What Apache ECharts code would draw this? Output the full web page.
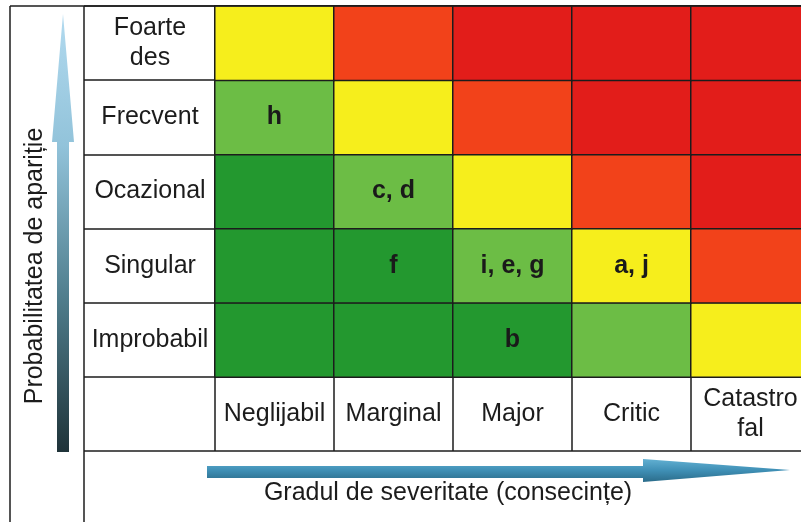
<!DOCTYPE html>
<html>
<head>
<meta charset="utf-8">
<script src="https://cdn.jsdelivr.net/npm/echarts@6/dist/echarts.min.js"></script>
<style>
html,body{margin:0;padding:0;background:#fff;overflow:hidden;width:801px;height:522px;}
#chart{width:812px;height:522px;}
</style>
</head>
<body>
<div id="chart"></div>
<script>
// Severity categories (x axis, left to right)
const severities = ['Neglijabil', 'Marginal', 'Major', 'Critic', 'Catastro\nfal'];
// Probability categories (y axis, bottom to top)
const probabilities = ['Improbabil', 'Singular', 'Ocazional', 'Frecvent', 'Foarte\ndes'];
// Risk level per cell, rows from bottom (Improbabil) to top (Foarte des)
// 1 = low (dark green), 2 = light green, 3 = yellow, 4 = orange, 5 = red
const riskImprobabil = [1, 1, 1, 2, 3];
const riskSingular   = [1, 1, 2, 3, 4];
const riskOcazional  = [1, 2, 3, 4, 5];
const riskFrecvent   = [2, 3, 4, 5, 5];
const riskFoarteDes  = [3, 4, 5, 5, 5];
// Hazard letters placed in cells
const hazImprobabil = ['', '', 'b', '', ''];
const hazSingular   = ['', 'f', 'i, e, g', 'a, j', ''];
const hazOcazional  = ['', 'c, d', '', '', ''];
const hazFrecvent   = ['h', '', '', '', ''];
const hazFoarteDes  = ['', '', '', '', ''];

const yTitle = 'Probabilitatea de apariție';
const xTitle = 'Gradul de severitate (consecințe)';

const levelColors = ['#23982f', '#6cbd45', '#f6ee1c', '#f2421a', '#e21d1a'];

const riskRows = [riskImprobabil, riskSingular, riskOcazional, riskFrecvent, riskFoarteDes];
const hazRows = [hazImprobabil, hazSingular, hazOcazional, hazFrecvent, hazFoarteDes];

const data = [];
riskRows.forEach((row, yi) => {
  row.forEach((lvl, xi) => {
    data.push({ value: [xi, yi, lvl], label: hazRows[yi][xi] });
  });
});

const FONT = '"Liberation Sans", Arial, sans-serif';
const LINE = '#1c1c1c';

const chart = echarts.init(document.getElementById('chart'), null, { renderer: 'canvas' });
chart.setOption({
  backgroundColor: '#ffffff',
  animation: false,
  grid: { left: 215, top: 6, width: 595, height: 371 },
  xAxis: {
    type: 'category',
    data: severities,
    position: 'bottom',
    axisLine: { show: false },
    axisTick: { show: true, length: 74, lineStyle: { color: LINE, width: 1.5 } },
    axisLabel: {
      margin: 37, verticalAlign: 'middle', color: '#1c1c1c',
      fontFamily: FONT, fontSize: 25, lineHeight: 30, interval: 0
    },
    splitLine: { show: false }
  },
  yAxis: {
    type: 'category',
    data: probabilities,
    axisLine: { show: false },
    axisTick: { show: true, length: 131, lineStyle: { color: LINE, width: 1.5 } },
    axisLabel: {
      margin: 65, align: 'center', color: '#1c1c1c',
      fontFamily: FONT, fontSize: 25, lineHeight: 30, interval: 0
    },
    splitLine: { show: false }
  },
  visualMap: {
    show: false,
    type: 'piecewise',
    dimension: 2,
    pieces: [
      { value: 1, color: levelColors[0] },
      { value: 2, color: levelColors[1] },
      { value: 3, color: levelColors[2] },
      { value: 4, color: levelColors[3] },
      { value: 5, color: levelColors[4] }
    ]
  },
  series: [{
    type: 'heatmap',
    data: data,
    itemStyle: { borderColor: LINE, borderWidth: 1.5 },
    emphasis: { disabled: true },
    label: {
      show: true,
      formatter: p => p.data.label,
      color: '#1a1a1a',
      fontFamily: FONT,
      fontWeight: 'bold',
      fontSize: 25
    }
  }],
  graphic: [
    // frame lines
    { type: 'line', shape: { x1: 10, y1: 6, x2: 812, y2: 6 }, style: { stroke: LINE, lineWidth: 1.5 }, z: 100 },
    { type: 'line', shape: { x1: 10, y1: 6, x2: 10, y2: 522 }, style: { stroke: LINE, lineWidth: 1.5 }, z: 100 },
    { type: 'line', shape: { x1: 84, y1: 6, x2: 84, y2: 522 }, style: { stroke: LINE, lineWidth: 1.5 }, z: 100 },
    { type: 'line', shape: { x1: 84, y1: 451, x2: 812, y2: 451 }, style: { stroke: LINE, lineWidth: 1.5 }, z: 100 },
    // vertical arrow
    {
      type: 'polygon',
      shape: { points: [[63, 14], [74, 142], [69, 142], [69, 452], [57, 452], [57, 142], [52, 142]] },
      style: {
        fill: new echarts.graphic.LinearGradient(0, 0, 0, 1, [
          { offset: 0, color: '#b2daef' },
          { offset: 0.3, color: '#92c3da' },
          { offset: 0.65, color: '#4f7d8c' },
          { offset: 1, color: '#1f3339' }
        ])
      }
    },
    // horizontal arrow
    {
      type: 'polygon',
      shape: { points: [[207, 466], [643, 466], [643, 459], [790, 470], [643, 482], [643, 478], [207, 478]] },
      style: {
        fill: new echarts.graphic.LinearGradient(0, 0, 0, 1, [
          { offset: 0, color: '#62b0d2' },
          { offset: 0.5, color: '#3f8fb5' },
          { offset: 1, color: '#2b6c8a' }
        ])
      }
    },
    // titles
    {
      type: 'text', x: 35, y: 266, rotation: Math.PI / 2,
      style: { text: yTitle, x: 0, y: 0, align: 'center', verticalAlign: 'middle',
               fill: '#1c1c1c', font: '25px ' + FONT }
    },
    {
      type: 'text', x: 448, y: 493,
      style: { text: xTitle, x: 0, y: 0, align: 'center', verticalAlign: 'middle',
               fill: '#1c1c1c', font: '25px ' + FONT }
    }
  ]
});
</script>
</body>
</html>
